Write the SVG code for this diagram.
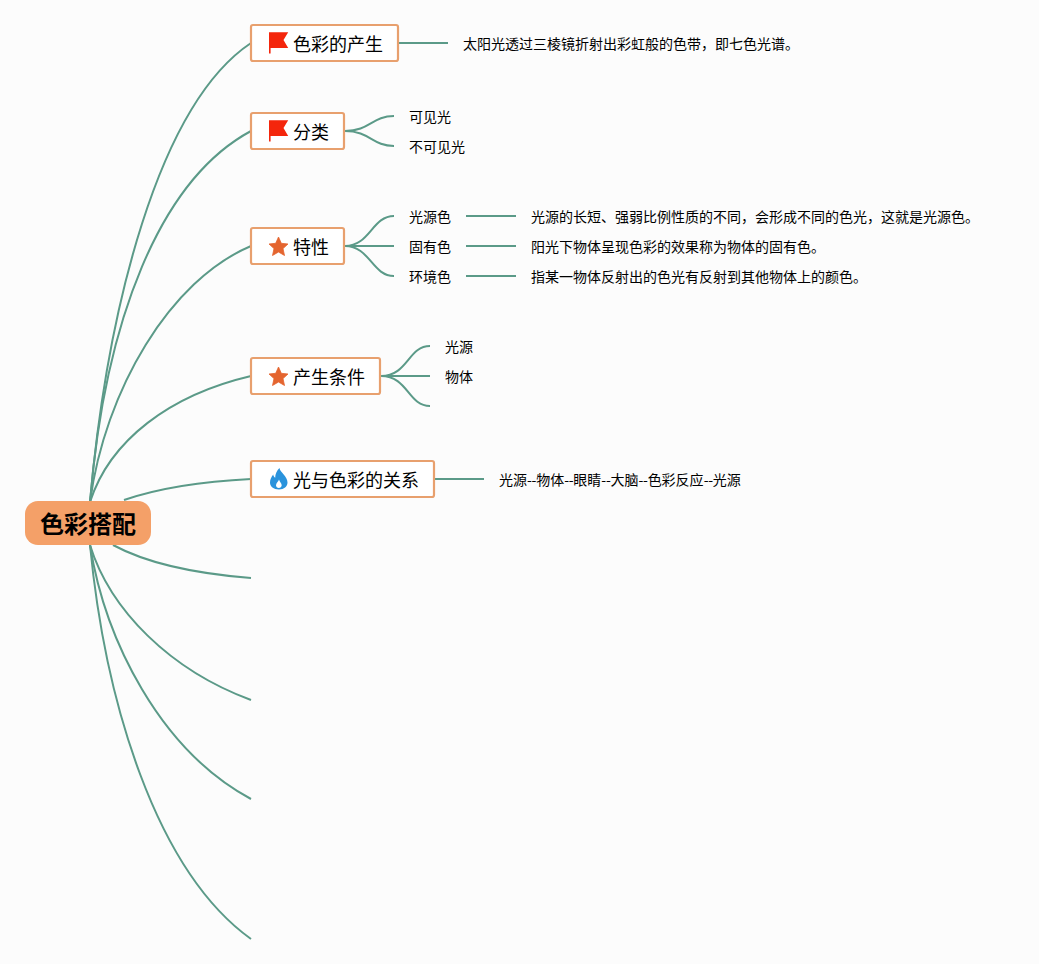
<svg xmlns="http://www.w3.org/2000/svg" width="1039" height="964" viewBox="0 0 1039 964">
<style>
text{font-family:"Noto Sans CJK SC","Noto Sans",sans-serif;fill:#000}
.t{font-size:14px}
.n{font-size:18px}
.b{fill:#fff;stroke:#e8a06e;stroke-width:2.2}
.c path{fill:none;stroke:#5b9a88;stroke-width:2}
.h{letter-spacing:-.28px}
</style>
<defs>
<path id="flag" d="M0 -10.700H19.200L14.500 -3L19.200 5H1.600V10.500H0Z" fill="#f4260c"/>
<path id="star" d="M9.500 -9L12.300 -2.700L19 -2L14 2.600L15.500 9.500L9.500 6L3.500 9.500L5 2.600L0 -2L6.700 -2.700Z" fill="#e4652f" stroke="#e4652f" stroke-width=".8" stroke-linejoin="round"/>
<path id="fire" fill-rule="evenodd" d="M10.500 -11C11 -6.500 18.500 -3 18.500 3.500C18.500 7.500 15 10.500 10 10.500C4.500 10.500 1 7.500 1 3.500C1 0.500 2.500 -2.500 4.200 -4.500C4.500 -2.800 5.200 -1.800 6.200 -1.200C6.200 -5 7.800 -8.500 10.500 -11ZM10 0.500C9.500 2.500 7 4 7 6.300C7 7.900 8.200 9 9.800 9C11.400 9 12.700 7.900 12.700 6.300C12.700 4 10.500 2.800 10 0.500Z" fill="#2a93dc"/>
</defs>
<rect width="1039" height="964" fill="#fcfcfc"/>
<g id="connectors" class="c">
<path d="M90 502C107 310 158 105 251 43"/>
<path d="M90 502C105 320 160 180 251 131"/>
<path d="M90 502C105 390 170 280 251 246"/>
<path d="M90 502C110 440 170 395 251 376"/>
<path d="M124 500C165 486 210 481 251 479"/>
<path d="M113 545C150 565 200 574 251 578"/>
<path d="M90 545C110 610 170 670 251 700"/>
<path d="M90 545C105 640 160 750 251 799"/>
<path d="M90 545C105 700 155 870 251 939"/>
<path d="M398 43H448"/>
<path d="M345 131C370 131 372 116 394 116"/>
<path d="M345 131C370 131 372 146 394 146"/>
<path d="M345 246C370 246 372 216 394 216"/>
<path d="M345 246H394"/>
<path d="M345 246C370 246 372 276 394 276"/>
<path d="M466 216H516"/><path d="M466 246H516"/><path d="M466 276H516"/>
<path d="M381 376C408 376 408 346 430 346"/>
<path d="M381 376H430"/>
<path d="M381 376C408 376 408 406 430 406"/>
<path d="M435 479H484"/>
</g>
<g id="root"><rect x="25" y="501" width="126" height="44" rx="13" fill="#f4a068"/><text x="88" y="533" text-anchor="middle" font-size="24" font-weight="700">色彩搭配</text></g>
<g id="n1"><rect class="b" x="251" y="25" width="147" height="36" rx="2"/><use href="#flag" x="269" y="43"/><text class="n" x="293" y="51">色彩的产生</text></g>
<g id="n2"><rect class="b" x="251" y="113" width="93" height="36" rx="2"/><use href="#flag" x="269" y="131"/><text class="n" x="293" y="139">分类</text></g>
<g id="n3"><rect class="b" x="251" y="228" width="93" height="36" rx="2"/><use href="#star" x="269" y="246"/><text class="n" x="293" y="254">特性</text></g>
<g id="n4"><rect class="b" x="251" y="358" width="129" height="36" rx="2"/><use href="#star" x="269" y="376"/><text class="n" x="293" y="384">产生条件</text></g>
<g id="n5"><rect class="b" x="251" y="461" width="183" height="36" rx="2"/><use href="#fire" x="269" y="479"/><text class="n" x="293" y="487">光与色彩的关系</text></g>
<g id="labels">
<text class="t" x="463" y="49">太阳光透过三棱镜折射出彩虹般的色带，即七色光谱。</text>
<text class="t" x="409" y="122">可见光</text>
<text class="t" x="409" y="152">不可见光</text>
<text class="t" x="409" y="222">光源色</text>
<text class="t" x="409" y="252">固有色</text>
<text class="t" x="409" y="282">环境色</text>
<text class="t" x="531" y="222">光源的长短、强弱比例性质的不同，会形成不同的色光，这就是光源色。</text>
<text class="t" x="531" y="252">阳光下物体呈现色彩的效果称为物体的固有色。</text>
<text class="t" x="531" y="282">指某一物体反射出的色光有反射到其他物体上的颜色。</text>
<text class="t" x="445" y="352">光源</text>
<text class="t" x="445" y="382">物体</text>
<text class="t" x="499" y="485">光源<tspan class="h">--</tspan>物体<tspan class="h">--</tspan>眼睛<tspan class="h">--</tspan>大脑<tspan class="h">--</tspan>色彩反应<tspan class="h">--</tspan>光源</text>
</g>
</svg>
